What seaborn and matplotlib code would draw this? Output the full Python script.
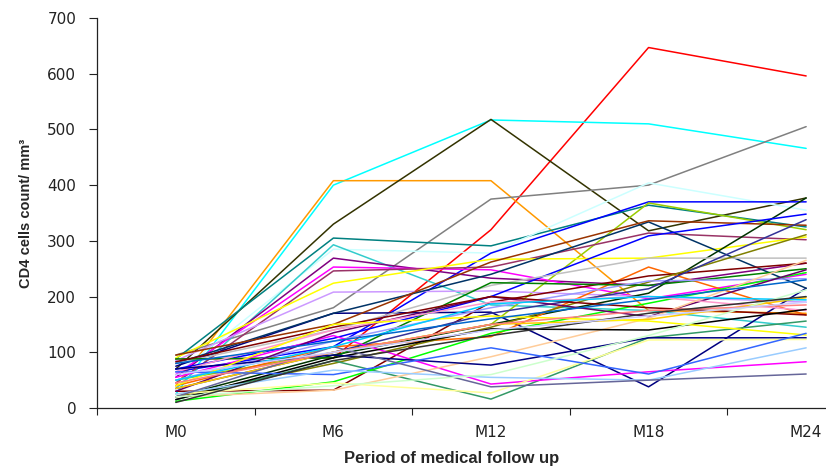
import pandas as pd
import seaborn as sns
import matplotlib.pyplot as plt
from matplotlib.ticker import FixedLocator

# follow-up periods
periods = ['M0', 'M6', 'M12', 'M18', 'M24']

# CD4 counts per patient (M0, M6, M12, M18, M24)
cd4 = [
    [88, 90, 320, 647, 596],
    [25, 400, 517, 510, 466],
    [40, 408, 408, 175, 170],
    [70, 330, 518, 318, 377],
    [95, 180, 375, 400, 505],
    [88, 305, 291, 364, 325],
    [60, 285, 278, 404, 355],
    [35, 293, 185, 175, 145],
    [65, 110, 278, 370, 370],
    [50, 100, 150, 368, 320],
    [55, 269, 233, 220, 260],
    [60, 253, 248, 196, 240],
    [45, 246, 253, 314, 302],
    [90, 224, 267, 269, 307],
    [85, 208, 210, 200, 190],
    [75, 170, 172, 38, 215],
    [80, 170, 240, 334, 215],
    [95, 150, 262, 336, 328],
    [20, 95, 150, 206, 377],
    [70, 125, 200, 309, 348],
    [80, 140, 220, 269, 269],
    [40, 110, 128, 253, 167],
    [30, 32, 190, 237, 260],
    [20, 80, 145, 226, 311],
    [15, 85, 16, 126, 156],
    [88, 90, 225, 220, 250],
    [12, 47, 134, 188, 243],
    [50, 120, 180, 228, 232],
    [35, 100, 170, 214, 338],
    [55, 130, 43, 65, 83],
    [30, 135, 200, 164, 248],
    [65, 140, 190, 200, 175],
    [83, 145, 200, 180, 167],
    [20, 32, 92, 161, 265],
    [35, 100, 150, 159, 198],
    [15, 90, 142, 140, 177],
    [70, 95, 77, 126, 126],
    [40, 150, 165, 156, 131],
    [25, 45, 27, 122, 123],
    [65, 60, 108, 61, 134],
    [25, 68, 55, 50, 108],
    [20, 110, 38, 50, 61],
    [50, 110, 187, 200, 194],
    [20, 40, 60, 130, 212],
    [80, 120, 160, 195, 230],
    [45, 100, 150, 175, 185],
    [10, 85, 130, 170, 200],
    [60, 100, 140, 165, 190],
]

colors = ['#FF0000', '#00FFFF', '#FF9900', '#333300', '#808080', '#008080',
          '#CCFFFF', '#33CCCC', '#0000FF', '#99CC00', '#800080', '#FF00FF',
          '#993366', '#FFFF00', '#CC99FF', '#000080', '#003366', '#993300',
          '#003300', '#0000FF', '#C0C0C0', '#FF6600', '#800000', '#808000',
          '#339966', '#008000', '#00FF00', '#9999FF', '#333399', '#FF00FF',
          '#660066', '#FF99CC', '#800000', '#FFCC99', '#FFCC00', '#000000',
          '#000080', '#FFFF00', '#FFFF99', '#3366FF', '#99CCFF', '#666699',
          '#00CCFF', '#CCFFCC', '#0066CC', '#FF8080', '#333333', '#CCCCFF']

# long format table
rows = []
for i, vals in enumerate(cd4):
    for j, v in enumerate(vals):
        rows.append({'patient': i, 'pos': j, 'cd4': v})
df = pd.DataFrame(rows)

sns.set_style('white')
plt.rcParams['font.family'] = ['DejaVu Sans']

fig = plt.figure(figsize=(8.26, 4.66), dpi=100)
ax = fig.add_axes([97 / 826, 58 / 466, 1 - 97 / 826, 390 / 466])

sns.lineplot(data=df, x='pos', y='cd4', hue='patient', palette=colors,
             estimator=None, sort=False, legend=False, linewidth=1.1, ax=ax)

ax.set_xlim(-0.5, 4.126)
ax.set_ylim(0, 700)
ax.set_yticks(range(0, 701, 100))
ax.tick_params(axis='y', direction='out', length=6, width=0.8, labelsize=11,
               left=True, colors='#222222', pad=9)

# category labels centred, tick marks between categories
ax.xaxis.set_major_locator(FixedLocator([-0.5, 0.5, 1.5, 2.5, 3.5]))
ax.set_xticklabels([])
ax.xaxis.set_minor_locator(FixedLocator(range(len(periods))))
ax.set_xticklabels(periods, minor=True)
ax.tick_params(axis='x', which='major', direction='out', length=5, width=0.8,
               bottom=True, colors='#222222')
ax.tick_params(axis='x', which='minor', length=0, labelsize=11, pad=12,
               colors='#222222')

for s in ['top', 'right']:
    ax.spines[s].set_visible(False)
for s in ['left', 'bottom']:
    ax.spines[s].set_color('#222222')
    ax.spines[s].set_linewidth(0.9)

ax.set_xlabel('')
ax.set_ylabel('CD4 cells count/ mm³', fontsize=10.5, fontweight='bold',
              family='Liberation Sans', labelpad=10)
fig.text(452 / 826, 1 - 458 / 466, 'Period of medical follow up', ha='center',
         va='center', fontsize=12, fontweight='bold', family='Liberation Sans')

fig.savefig('out.png', dpi=100)
